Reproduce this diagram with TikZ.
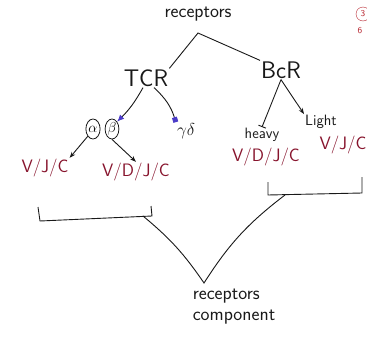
\documentclass[tikz,border=0pt]{standalone}
\usepackage{tikz}
\usetikzlibrary{arrows.meta,shapes.geometric}
\definecolor{ink}{RGB}{25,25,25}
\definecolor{gene}{RGB}{135,20,45}
\definecolor{tipblue}{RGB}{75,60,200}
\definecolor{mark}{RGB}{185,40,50}
\tikzset{
    big/.style={font=\sffamily\fontsize{24}{26}\selectfont, text=ink, inner sep=1pt},
    lbl/.style={font=\sffamily\fontsize{19}{21}\selectfont, text=ink, inner sep=1pt},
    small/.style={font=\sffamily\fontsize{15}{17}\selectfont, text=ink, inner sep=1pt},
    gene/.style={font=\sffamily\fontsize{18}{20}\selectfont, text=gene, inner sep=1pt},
    chain/.style={ellipse, draw=ink, line width=0.8pt, inner sep=0.5pt, minimum height=20pt, font=\fontsize{14}{16}\selectfont},
    wire/.style={draw=ink, line width=0.9pt},
}

\begin{document}
\begin{tikzpicture}[x=1pt, y=-1pt]
    	\useasboundingbox (0,0) rectangle (367,343);
    	\clip (0,0) rectangle (367,343);
    	% Paths, nodes and wires:
    	\node[lbl] (rec) at (198,14) {receptors};
    	\coordinate (fork) at (198,33);
    	\node[big] (tcr) at (146,78) {TCR};
    	\node[big] (bcr) at (281,70) {BcR};
    	\draw[wire] (tcr.north east) -- (fork) -- (bcr.north west);
    	% TCR chains
    	\node[chain] (alpha) at (93,129) {$\alpha$};
    	\node[chain] (beta) at (112,129) {$\beta$};
    	\node[font=\fontsize{18}{20}\selectfont, text=ink, inner sep=1pt] (gd) at (186,131) {$\gamma\delta$};
    	\draw[wire, -{Latex[length=7pt, width=6pt, color=tipblue]}] (tcr.south) ++(-3,0) coordinate (t1) (t1) to[bend left=8] (beta.north east);
    	\draw[wire, -{Square[length=5pt, width=5pt, color=tipblue]}] (tcr.south) ++(8,0) coordinate (t2) (t2) to[bend left=15] (gd.north west);
    	\node[gene] (vjc1) at (45,168) {V/J/C};
    	\node[gene] (vdjc1) at (136,172) {V/D/J/C};
    	\draw[wire, -{Stealth[length=6pt]}] (alpha.south west) -- (vjc1.north east);
    	\draw[wire, -{Stealth[length=6pt]}] (beta.south) -- (vdjc1.north);
    	% BCR chains
    	\node[small] (heavy) at (262,135) {heavy};
    	\node[gene] (vdjc2) at (266,157) {V/D/J/C};
    	\node[small] (light) at (321,122) {Light};
    	\node[gene] (vjc2) at (343,145) {V/J/C};
    	\draw[wire, -{Bar[width=8pt]}] (bcr.south) -- (heavy.north);
    	\draw[wire, -{Stealth[length=6pt]}] (bcr.south) -- (light.north west);
    	% brackets
    	\draw[wire] (38,207) -- (40,221) -- (152,216) -- (151,206);
    	\draw[wire] (268,182) -- (268,195) -- (362,193) -- (362,177);
    	\coordinate (lmid) at (143,216);
    	\coordinate (rmid) at (285,195);
    	\node[lbl, align=left] (comp) at (234,307) {receptors\\component};
    	\coordinate (meet) at (204,283);
    	\draw[wire] (lmid) to[bend left=8] (meet) to[bend left=10] (rmid);
    	% corner marks
    	\node[circle, draw=mark, text=mark, inner sep=1pt, minimum size=14pt, font=\sffamily\small] (m3) at (363,14) {3};
    	\node[text=mark, font=\sffamily\small] (m6) at (360,31) {6};
\end{tikzpicture}
\end{document}
